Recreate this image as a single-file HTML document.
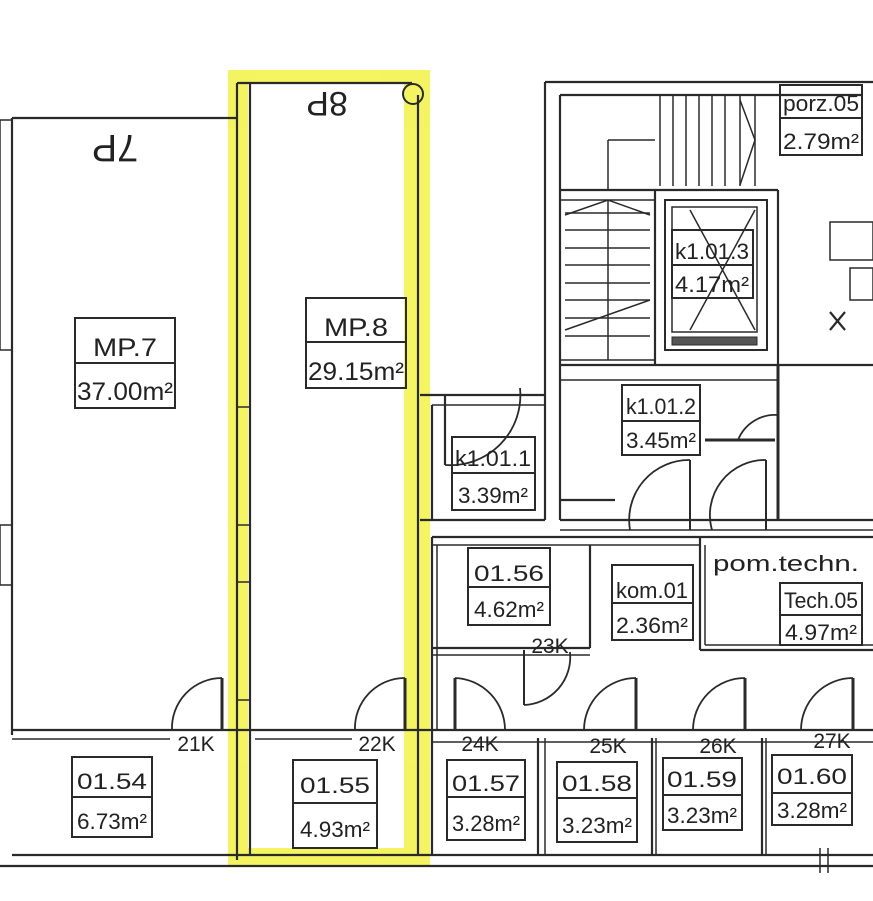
<!DOCTYPE html>
<html><head><meta charset="utf-8"><style>
html,body{margin:0;padding:0;background:#fff;}
svg{display:block}
text{font-family:"Liberation Sans",sans-serif;fill:#222;}
</style></head><body>
<svg width="873" height="901" viewBox="0 0 873 901" xmlns="http://www.w3.org/2000/svg">
<rect width="873" height="901" fill="#fff"/>
<g fill="#f2f23a" opacity="0.8">
<rect x="228" y="70" width="200" height="14"/>
<rect x="228" y="70" width="20" height="795"/>
<rect x="404" y="70" width="26" height="795"/>
<rect x="228" y="848" width="202" height="17"/>
</g>
<g stroke="#2a2a2a" fill="none" stroke-width="2.2">
<rect x="0" y="120" width="12" height="230" stroke-width="1.5"/>
<rect x="0" y="525" width="12" height="60" stroke-width="1.5"/>
<line x1="12" y1="118" x2="12" y2="735"/>
<line x1="12" y1="118" x2="237" y2="118"/>
<line x1="237" y1="83" x2="237" y2="860"/>
<line x1="250" y1="83" x2="250" y2="855"/>
<line x1="237" y1="83" x2="412" y2="83"/>
<line x1="418" y1="95" x2="418" y2="855"/>
<line x1="237" y1="407" x2="250" y2="407" stroke-width="1.5"/>
<line x1="237" y1="525" x2="250" y2="525" stroke-width="1.5"/>
<line x1="237" y1="582" x2="250" y2="582" stroke-width="1.5"/>
<line x1="237" y1="700" x2="250" y2="700" stroke-width="1.5"/>
<circle cx="413" cy="94" r="10" stroke-width="2"/>
<line x1="12" y1="730" x2="873" y2="730"/>
<line x1="12" y1="739" x2="170" y2="739" stroke-width="1.5"/>
<line x1="255" y1="739" x2="352" y2="739" stroke-width="1.5"/>
<line x1="432" y1="742" x2="873" y2="742" stroke-width="1.5"/>
<line x1="12" y1="855" x2="873" y2="855"/>
<line x1="0" y1="866" x2="873" y2="866"/>
<line x1="432" y1="537" x2="432" y2="855"/>
<line x1="437" y1="545" x2="437" y2="730" stroke-width="1.5"/>
<line x1="538" y1="738" x2="538" y2="855"/>
<line x1="545" y1="738" x2="545" y2="855" stroke-width="1.5"/>
<line x1="652" y1="738" x2="652" y2="855"/>
<line x1="656" y1="738" x2="656" y2="855" stroke-width="1.5"/>
<line x1="762" y1="738" x2="762" y2="855"/>
<line x1="766" y1="738" x2="766" y2="855" stroke-width="1.5"/>
<line x1="432" y1="537" x2="873" y2="537"/>
<line x1="432" y1="545" x2="700" y2="545" stroke-width="1.5"/>
<line x1="590" y1="545" x2="590" y2="648"/>
<line x1="432" y1="648" x2="590" y2="648"/>
<line x1="432" y1="655" x2="590" y2="655" stroke-width="1.5"/>
<line x1="700" y1="537" x2="700" y2="650"/>
<line x1="705" y1="545" x2="705" y2="645" stroke-width="1.5"/>
<line x1="700" y1="650" x2="873" y2="650"/>
<line x1="705" y1="645" x2="873" y2="645" stroke-width="1.5"/>
<line x1="545" y1="82" x2="873" y2="82"/>
<line x1="545" y1="82" x2="545" y2="520"/>
<line x1="560" y1="95" x2="560" y2="520"/>
<line x1="560" y1="95" x2="862" y2="95"/>
<line x1="560" y1="520" x2="873" y2="520"/>
<line x1="560" y1="530" x2="873" y2="530" stroke-width="1.5"/>
<line x1="420" y1="395" x2="545" y2="395"/>
<line x1="432" y1="405" x2="545" y2="405" stroke-width="1.5"/>
<line x1="432" y1="405" x2="432" y2="520"/>
<line x1="420" y1="520" x2="545" y2="520"/>
<line x1="560" y1="190" x2="778" y2="190"/>
<line x1="560" y1="200" x2="655" y2="200" stroke-width="1.5"/>
<line x1="655" y1="190" x2="655" y2="365"/>
<line x1="778" y1="190" x2="778" y2="365"/>
<line x1="560" y1="365" x2="873" y2="365"/>
<line x1="560" y1="380" x2="778" y2="380" stroke-width="1.5"/>
<line x1="560" y1="360" x2="655" y2="360" stroke-width="1.5"/>
<g stroke-width="1.5">
<line x1="565" y1="213" x2="650" y2="213"/><line x1="565" y1="230" x2="650" y2="230"/>
<line x1="565" y1="248" x2="650" y2="248"/><line x1="565" y1="265" x2="650" y2="265"/>
<line x1="565" y1="283" x2="650" y2="283"/><line x1="565" y1="300" x2="650" y2="300"/>
<line x1="565" y1="318" x2="650" y2="318"/><line x1="565" y1="336" x2="650" y2="336"/>
<line x1="608" y1="200" x2="608" y2="360"/>
<polyline points="565,215 608,200 650,215"/>
<line x1="565" y1="330" x2="650" y2="300"/>
<line x1="608" y1="140" x2="608" y2="190"/>
<line x1="608" y1="140" x2="655" y2="140"/>
<line x1="660" y1="95" x2="660" y2="186"/><line x1="673" y1="95" x2="673" y2="186"/>
<line x1="686" y1="95" x2="686" y2="186"/><line x1="699" y1="95" x2="699" y2="186"/>
<line x1="712" y1="95" x2="712" y2="186"/><line x1="725" y1="95" x2="725" y2="186"/>
<line x1="740" y1="95" x2="740" y2="186"/>
<polyline points="740,100 755,140 740,185"/>
<line x1="755" y1="95" x2="755" y2="186"/>
</g>
<rect x="665" y="200" width="102" height="150" stroke-width="2"/>
<rect x="672" y="207" width="85" height="125" stroke-width="1.5"/>
<line x1="690" y1="210" x2="755" y2="330" stroke-width="1.5"/>
<line x1="755" y1="210" x2="690" y2="330" stroke-width="1.5"/>
<rect x="672" y="337" width="85" height="8" fill="#555" stroke-width="1"/>
<rect x="780" y="85" width="82" height="70" stroke-width="2"/>
<line x1="780" y1="118" x2="862" y2="118" stroke-width="2"/>
<rect x="830" y="222" width="43" height="38" stroke-width="1.5"/>
<rect x="850" y="268" width="23" height="32" stroke-width="1.5"/>
<line x1="830" y1="312" x2="845" y2="330"/><line x1="845" y1="312" x2="830" y2="330"/>
<line x1="445" y1="395" x2="445" y2="465"/>
<line x1="560" y1="500" x2="615" y2="500"/>
<line x1="778" y1="365" x2="778" y2="520" stroke-width="3"/>
<line x1="705" y1="440" x2="775" y2="440" stroke-width="3"/>
<line x1="690" y1="460" x2="690" y2="530" stroke-width="2"/>
<line x1="766" y1="460" x2="766" y2="530" stroke-width="2"/>
<g stroke-width="1.8">
<path d="M520,388 A70,70 0 0 1 445,465"/>
<path d="M778,415 A40,40 0 0 0 738,440"/>
<path d="M690,460 A60,60 0 0 0 630,530"/>
<path d="M766,460 A55,55 0 0 0 712,530"/>
<line x1="222" y1="678" x2="222" y2="730" stroke-width="3"/>
<path d="M222,678 A50,50 0 0 0 172,730"/>
<line x1="405" y1="678" x2="405" y2="730" stroke-width="3"/>
<path d="M405,678 A50,50 0 0 0 355,730"/>
<line x1="455" y1="678" x2="455" y2="730" stroke-width="3"/>
<path d="M455,678 A52,52 0 0 1 505,730"/>
<line x1="636" y1="678" x2="636" y2="730" stroke-width="3"/>
<path d="M636,678 A52,52 0 0 0 584,730"/>
<line x1="745" y1="678" x2="745" y2="730" stroke-width="3"/>
<path d="M745,678 A52,52 0 0 0 693,730"/>
<line x1="853" y1="678" x2="853" y2="730" stroke-width="3"/>
<path d="M853,678 A52,52 0 0 0 801,730"/>
<line x1="524" y1="650" x2="524" y2="705" stroke-width="2"/>
<path d="M570,652 A48,48 0 0 1 524,705"/>
</g>
<g stroke-width="2">
<rect x="75" y="318" width="100" height="90"/><line x1="75" y1="363" x2="175" y2="363"/>
<rect x="306" y="298" width="100" height="90"/><line x1="306" y1="342" x2="406" y2="342"/>
<rect x="452" y="437" width="83" height="73"/><line x1="452" y1="473" x2="535" y2="473"/>
<rect x="622" y="385" width="78" height="70"/><line x1="622" y1="421" x2="700" y2="421"/>
<rect x="672" y="230" width="81" height="68"/><line x1="672" y1="265" x2="753" y2="265"/>
<rect x="468" y="548" width="82" height="77"/><line x1="468" y1="587" x2="550" y2="587"/>
<rect x="612" y="565" width="81" height="75"/><line x1="612" y1="603" x2="693" y2="603"/>
<rect x="780" y="583" width="82" height="62"/><line x1="780" y1="615" x2="862" y2="615"/>
<rect x="72" y="757" width="80" height="80"/><line x1="72" y1="797" x2="152" y2="797"/>
<rect x="293" y="760" width="84" height="88"/><line x1="293" y1="803" x2="377" y2="803"/>
<rect x="447" y="760" width="78" height="80"/><line x1="447" y1="797" x2="525" y2="797"/>
<rect x="557" y="762" width="80" height="80"/><line x1="557" y1="798" x2="637" y2="798"/>
<rect x="663" y="758" width="79" height="72"/><line x1="663" y1="795" x2="742" y2="795"/>
<rect x="772" y="755" width="80" height="70"/><line x1="772" y1="793" x2="852" y2="793"/>
</g>
<line x1="820" y1="848" x2="820" y2="873" stroke-width="1.5"/>
<line x1="828" y1="848" x2="828" y2="873" stroke-width="1.5"/>
</g>
<g font-size="25" text-anchor="middle">
<text x="125" y="356" textLength="64" lengthAdjust="spacingAndGlyphs">MP.7</text>
<text x="125" y="400" textLength="96" lengthAdjust="spacingAndGlyphs">37.00m²</text>
<text x="356" y="336" textLength="64" lengthAdjust="spacingAndGlyphs">MP.8</text>
<text x="356" y="380" textLength="96" lengthAdjust="spacingAndGlyphs">29.15m²</text>
<text transform="translate(115,148) rotate(180)" font-size="38" x="0" y="13">7P</text>
<text transform="translate(327,104) rotate(180)" font-size="34" x="0" y="12">8P</text>
</g>
<g font-size="22" text-anchor="middle">
<text x="493" y="466" textLength="76" lengthAdjust="spacingAndGlyphs">k1.01.1</text>
<text x="493" y="503" textLength="70" lengthAdjust="spacingAndGlyphs">3.39m²</text>
<text x="661" y="414" textLength="70" lengthAdjust="spacingAndGlyphs">k1.01.2</text>
<text x="661" y="448" textLength="70" lengthAdjust="spacingAndGlyphs">3.45m²</text>
<text x="712" y="259" textLength="74" lengthAdjust="spacingAndGlyphs">k1.01.3</text>
<text x="712" y="292" textLength="74" lengthAdjust="spacingAndGlyphs">4.17m²</text>
<text x="821" y="111" textLength="76" lengthAdjust="spacingAndGlyphs">porz.05</text>
<text x="821" y="149" textLength="76" lengthAdjust="spacingAndGlyphs">2.79m²</text>
<text x="509" y="581" textLength="70" lengthAdjust="spacingAndGlyphs">01.56</text>
<text x="509" y="617" textLength="70" lengthAdjust="spacingAndGlyphs">4.62m²</text>
<text x="652" y="598" textLength="72" lengthAdjust="spacingAndGlyphs">kom.01</text>
<text x="652" y="633" textLength="72" lengthAdjust="spacingAndGlyphs">2.36m²</text>
<text x="821" y="608" textLength="74" lengthAdjust="spacingAndGlyphs">Tech.05</text>
<text x="821" y="640" textLength="72" lengthAdjust="spacingAndGlyphs">4.97m²</text>
<text x="112" y="789" textLength="70" lengthAdjust="spacingAndGlyphs">01.54</text>
<text x="112" y="829" textLength="70" lengthAdjust="spacingAndGlyphs">6.73m²</text>
<text x="335" y="793" textLength="70" lengthAdjust="spacingAndGlyphs">01.55</text>
<text x="335" y="837" textLength="70" lengthAdjust="spacingAndGlyphs">4.93m²</text>
<text x="486" y="791" textLength="68" lengthAdjust="spacingAndGlyphs">01.57</text>
<text x="486" y="831" textLength="68" lengthAdjust="spacingAndGlyphs">3.28m²</text>
<text x="597" y="791" textLength="70" lengthAdjust="spacingAndGlyphs">01.58</text>
<text x="597" y="833" textLength="70" lengthAdjust="spacingAndGlyphs">3.23m²</text>
<text x="702" y="787" textLength="70" lengthAdjust="spacingAndGlyphs">01.59</text>
<text x="702" y="823" textLength="70" lengthAdjust="spacingAndGlyphs">3.23m²</text>
<text x="812" y="784" textLength="70" lengthAdjust="spacingAndGlyphs">01.60</text>
<text x="812" y="818" textLength="70" lengthAdjust="spacingAndGlyphs">3.28m²</text>
<text x="786" y="571" font-size="22" textLength="146" lengthAdjust="spacingAndGlyphs">pom.techn.</text>
</g>
<g font-size="21" text-anchor="middle">
<text x="196" y="751">21K</text>
<text x="377" y="751">22K</text>
<text x="480" y="751">24K</text>
<text x="608" y="753">25K</text>
<text x="718" y="753">26K</text>
<text x="832" y="748">27K</text>
<text x="550" y="653">23K</text>
</g>
</svg>
</body></html>
